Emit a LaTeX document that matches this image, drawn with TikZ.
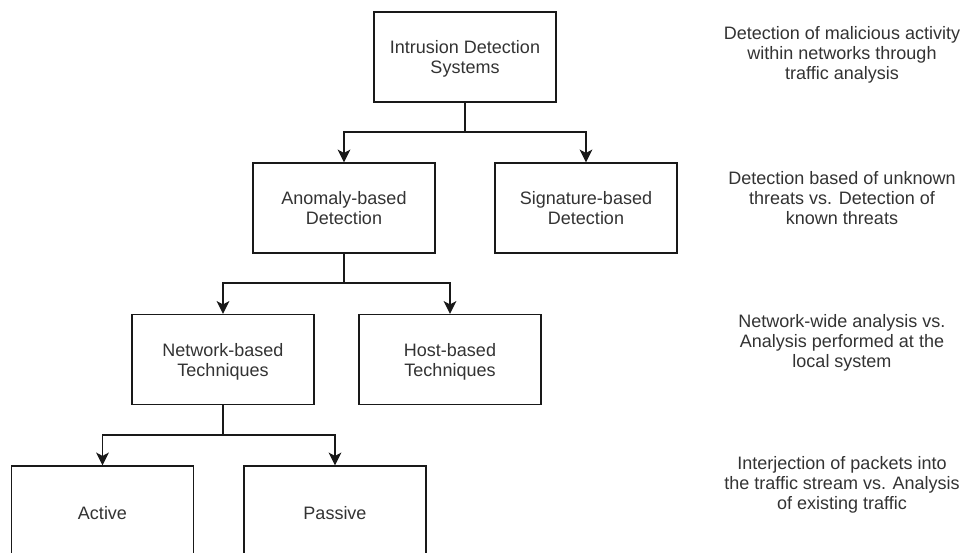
\documentclass[tikz,border=0pt]{standalone}
\usepackage{fontspec}
\setmainfont{Liberation Sans}
\usetikzlibrary{arrows.meta}
\definecolor{txt}{HTML}{333333}
% text nudged slightly below the box centre, keeping its natural extent
\newcommand{\lowered}[2]{\raisebox{-#1}[\height][\depth]{#2}}
\newcommand{\boxlines}[2]{\lowered{2.2pt}{\begin{tabular}{@{}c@{}}#1\\#2\end{tabular}}}
\begin{document}
\begin{tikzpicture}[x=0.75pt,y=-0.75pt,
  box/.style={draw=black!90,line width=1.1pt,fill=white,minimum width=136.5pt,minimum height=67.5pt,
    inner sep=0pt,text=txt,font=\fontsize{13.5}{15}\selectfont},
  note/.style={align=center,text=txt,font=\fontsize{13.5}{15}\selectfont,inner sep=0pt},
  link/.style={draw=black!90,line width=1.1pt},
  arr/.style={link,-{Stealth[length=9.5pt,width=9.5pt,inset=2.5pt]}}]
\clip (0,0) rectangle (961,553);
\fill[white] (0,0) rectangle (961,553);

% hierarchy boxes
\node[box] (ids) at (465,57) {\boxlines{Intrusion Detection}{Systems}};
\node[box] (anom) at (344,208) {\boxlines{Anomaly-based}{Detection}};
\node[box] (sig) at (586,208) {\boxlines{Signature-based}{Detection}};
\node[box] (net) at (223,359.5) {\boxlines{Network-based}{Techniques}};
\node[box] (host) at (450,359.5) {\boxlines{Host-based}{Techniques}};
\node[box] (act) at (102.5,511) {\lowered{1.5pt}{Active}};
\node[box] (pas) at (335,511) {\lowered{1.5pt}{Passive}};

% branching points
\coordinate (j1) at (465,132);
\coordinate (j2) at (344,283);
\coordinate (j3) at (223,435);

\draw[link] (ids) -- (j1);
\draw[arr] (j1) -| (anom);
\draw[arr] (j1) -| (sig);
\draw[link] (anom) -- (j2);
\draw[arr] (j2) -| (net);
\draw[arr] (j2) -| (host);
\draw[link] (net) -- (j3);
\draw[arr] (j3) -| (act);
\draw[arr] (j3) -| (pas);

% level descriptions
\node[note] (d1) at (842,55) {Detection of malicious activity\\within networks through\\traffic analysis};
\node[note] (d2) at (842,198) {Detection based of unknown\\threats vs. Detection of\\known threats};
\node[note] (d3) at (842,343) {Network-wide analysis vs.\\Analysis performed at the\\local system};
\node[note] (d4) at (842,485) {Interjection of packets into\\the traffic stream vs. Analysis\\of existing traffic};
\end{tikzpicture}
\end{document}
